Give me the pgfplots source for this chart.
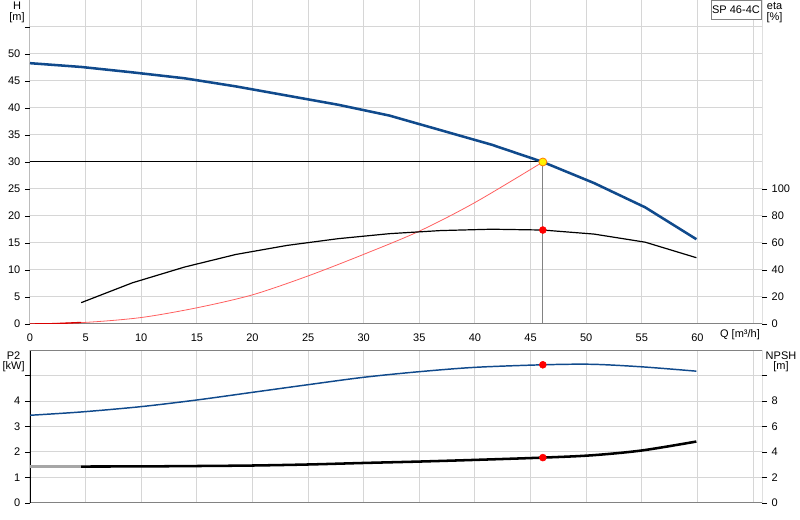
\documentclass[border=0pt]{standalone}
\usepackage{fontspec}
\setmainfont{Liberation Sans}
\usepackage{pgfplots}
\pgfplotsset{compat=1.18}
\definecolor{hblue}{RGB}{16,74,140}
\definecolor{gridgray}{RGB}{214,214,214}
\definecolor{sysred}{RGB}{255,95,95}
\definecolor{axgray}{RGB}{130,130,130}

\begin{document}
\begin{tikzpicture}[font=\fontsize{8.25}{9.5}\selectfont]
\path[use as bounding box] (0,0) rectangle (600pt,390pt);
\pgfplotsset{
  panel/.style={
    scale only axis, width=549pt,
    xmin=0, xmax=65.8,
    /pgf/number format/assume math mode=true,
    tick label style={font=\fontsize{8.25}{9.5}\selectfont},
    tick align=outside, major tick length=3.75pt,
    axis line style={draw=none},
    every tick/.style={black, line width=0.6pt},
  },
  leftpanel/.style={
    panel,
    xtick={0,5,...,65},
    ytick pos=left,
    x tick style={draw=none},
    grid=major, major grid style={gridgray, line width=0.75pt},
  },
  rightpanel/.style={
    panel,
    hide x axis,
    ytick pos=right,
  },
}

% ---------- upper panel: H and eta ----------
\begin{axis}[leftpanel, at={(22.5pt,147pt)}, anchor=south west, height=243pt,
  ymin=0, ymax=60,
  xticklabels={0,5,10,15,20,25,30,35,40,45,50,55,60,{}},
  ytick={0,5,...,55}, yticklabels={0,5,10,15,20,25,30,35,40,45,50,{}},
  ]
  \draw[axgray, line width=1.5pt] (rel axis cs:0,0) -- (rel axis cs:1,0);
  \draw[black, line width=0.75pt] (rel axis cs:0,0) -- (rel axis cs:0,1);
  \draw[axgray, line width=0.75pt] (rel axis cs:0,1) -- (rel axis cs:1,1);
  \draw[black, line width=0.75pt] (rel axis cs:1,0) -- (rel axis cs:1,1);

  % duty point guides
  \addplot[axgray, line width=0.75pt] coordinates {(46.1,0) (46.1,30)};
  \addplot[black, line width=0.75pt] coordinates {(0,30) (46.1,30)};

  % system curve
  \addplot[sysred, line width=0.6pt, smooth] coordinates {
    (0,0) (5,0.3) (10,1.2) (15,3.0) (20,5.4) (25,8.9) (30,12.9)
    (35,17.2) (40,22.5) (46.1,30)};
  \addplot[red!85!black, line width=1pt] coordinates {(0,0) (2.3,0.07) (4.6,0.28)};

  % pump curve H
  \addplot[hblue, line width=1.9pt] coordinates {
    (0,48.3) (4.6,47.6) (9.2,46.6) (13.9,45.5) (18.5,44.0) (23.1,42.3)
    (27.7,40.6) (32.3,38.6) (36.9,35.9) (41.5,33.2) (46.1,30.0)
    (50.7,26.1) (55.3,21.6) (59.9,15.7)};

  \addplot[only marks, mark=*, mark size=3pt,
    mark options={fill=yellow, draw=orange, line width=0.6pt}]
    coordinates {(46.1,30)};
\end{axis}

\begin{axis}[rightpanel, at={(22.5pt,147pt)}, anchor=south west, height=243pt,
  ymin=0, ymax=240,
  ytick={0,20,...,100},
  ]
  % efficiency eta
  \addplot[black, line width=0.9pt] coordinates {
    (4.6,15.8) (9.2,30.5) (13.9,42.2) (18.5,51.5) (23.1,58.2) (27.7,63.2)
    (32.3,66.9) (36.9,69.2) (41.5,70.2) (46.1,69.6) (50.7,66.6)
    (55.3,60.6) (59.9,49.1)};
  \addplot[only marks, mark=*, mark size=2.6pt, mark options={fill=red, draw=red}]
    coordinates {(46.1,69.6)};
\end{axis}

% ---------- lower panel: P2 and NPSH ----------
\begin{axis}[leftpanel, at={(22.5pt,12.75pt)}, anchor=south west, height=114.75pt,
  ymin=0, ymax=6,
  xticklabels={},
  ytick={0,1,...,5}, yticklabels={0,1,2,3,4,{}},
  ]
  \draw[axgray, line width=1.5pt] (rel axis cs:0,0) -- (rel axis cs:1,0);
  \draw[black, line width=0.75pt] (rel axis cs:0,0) -- (rel axis cs:0,1);
  \draw[axgray, line width=1.5pt] (rel axis cs:0,1) -- (rel axis cs:1,1);
  \draw[black, line width=0.75pt] (rel axis cs:1,0) -- (rel axis cs:1,1);

  % shaft power P2
  \addplot[hblue, line width=1.1pt, smooth] coordinates {
    (0,3.44) (4.6,3.57) (10,3.78) (15,4.04) (20,4.34) (25,4.64) (30,4.93)
    (35,5.15) (40,5.32) (46.1,5.42) (50.5,5.44) (55,5.34) (59.9,5.17)};
  \addplot[only marks, mark=*, mark size=2.6pt, mark options={fill=red, draw=red}]
    coordinates {(46.1,5.42)};
\end{axis}

\begin{axis}[rightpanel, at={(22.5pt,12.75pt)}, anchor=south west, height=114.75pt,
  ymin=0, ymax=12,
  ytick={0,2,...,10}, yticklabels={0,2,4,6,8,{}},
  ]
  % NPSH
  \addplot[gray!70, line width=1.6pt] coordinates {(0,2.86) (4.6,2.86)};
  \addplot[black, line width=1.9pt, smooth] coordinates {
    (4.6,2.86) (10,2.87) (15,2.90) (20,2.94) (25,3.02) (30,3.14) (35,3.25)
    (40,3.38) (46.1,3.56) (50.5,3.74) (55,4.12) (59.9,4.82)};
  \addplot[only marks, mark=*, mark size=2.6pt, mark options={fill=red, draw=red}]
    coordinates {(46.1,3.56)};
\end{axis}

% ---------- axis titles ----------
\node at (12.75pt,385.5pt) {H};
\node at (12.75pt,376.5pt) {[m]};
\node at (580.9pt,385.5pt) {eta};
\node at (580.9pt,376.5pt) {[\%]};
\node at (10.2pt,123pt) {P2};
\node at (10.2pt,114.75pt) {[kW]};
\node at (585.75pt,123pt) {NPSH};
\node at (585.75pt,114.75pt) {[m]};
\node at (555pt,138.75pt) {Q [m³/h]};

% ---------- curve label box ----------
\draw[axgray, fill=white, line width=0.6pt] (533.25pt,390pt) rectangle (570.75pt,375.75pt);
\node at (552pt,382.9pt) {SP 46-4C};
\end{tikzpicture}
\end{document}
